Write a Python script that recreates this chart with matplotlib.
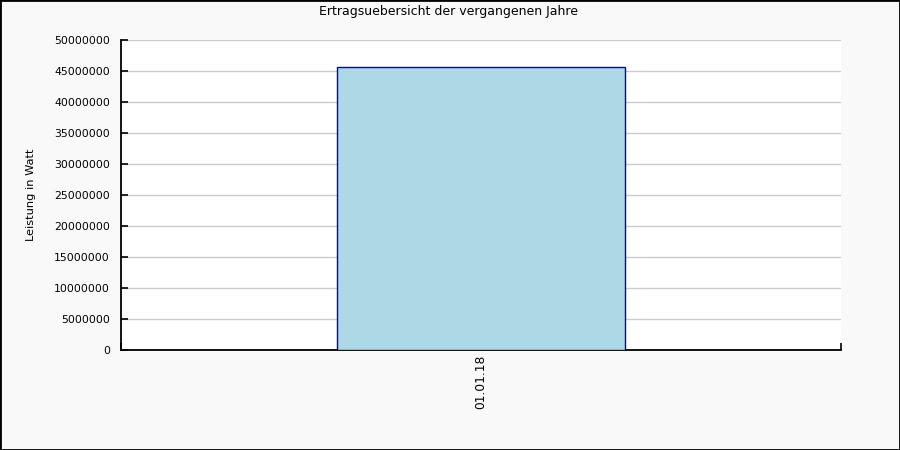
import matplotlib
matplotlib.use("Agg")
import matplotlib.pyplot as plt
from matplotlib.patches import Rectangle

categories = ["01.01.18"]
values = [45650000]
yticks = list(range(0, 50000001, 5000000))

fig = plt.figure(figsize=(9, 4.5), dpi=100, facecolor="#f9f9f9")
ax = fig.add_axes([121/900, 1-350/450, 720/900, 310/450])
ax.set_facecolor("white")

x = list(range(len(categories)))
ax.bar(x, values, width=0.4, color="#add8e6", edgecolor="#0000dd", linewidth=1, zorder=3)
ax.set_xlim(-0.5, 0.5)
ax.set_ylim(0, 50000000)
ax.set_yticks(yticks)
ax.set_yticklabels([str(v) for v in yticks], fontsize=7.8)
ax.set_xticks(x)
ax.set_xticklabels(categories, rotation=90, fontsize=8.8)
ax.set_xticks([-0.5, 0.5], minor=True)
ax.tick_params(axis="x", which="major", length=0, pad=3)
ax.tick_params(axis="x", which="minor", direction="in", length=5, width=1.2, color="black")
ax.tick_params(axis="y", direction="in", length=5, width=1.2, color="black", pad=8)
ax.grid(axis="y", color="#cccccc", linewidth=1, zorder=0)
ax.set_axisbelow(True)
for s in ["top", "right"]:
    ax.spines[s].set_visible(False)
for s in ["left", "bottom"]:
    ax.spines[s].set_linewidth(1.3)
    ax.spines[s].set_color("black")

ax.set_ylabel("Leistung in Watt", fontsize=8.2)
ax.yaxis.set_label_coords(-(121-36)/720, 0.5)
fig.text(0.498, 1-12/450, "Ertragsuebersicht der vergangenen Jahre", ha="center", va="center", fontsize=9)

fig.patches.append(Rectangle((0, 0), 1, 1, transform=fig.transFigure, fill=False,
                             edgecolor="black", linewidth=2, zorder=10))

fig.savefig("out.png", dpi=100, facecolor=fig.get_facecolor())
